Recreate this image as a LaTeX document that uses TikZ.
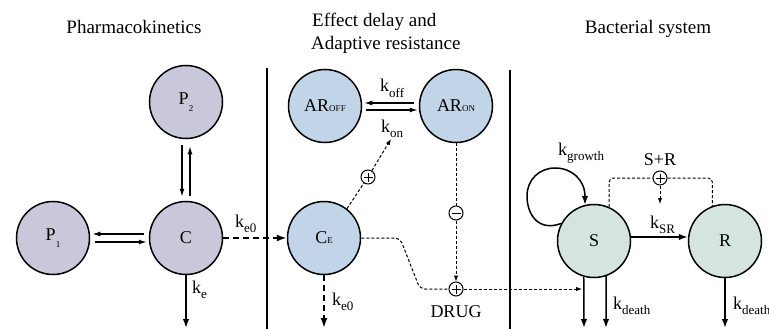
\documentclass[tikz,border=0pt]{standalone}
\usepackage{fontspec}
\setmainfont{Liberation Serif}
\newfontfamily\tms{Liberation Serif}
\usetikzlibrary{arrows.meta,calc}
\definecolor{pkfill}{HTML}{C8C8DA}
\definecolor{edfill}{HTML}{C2D4E8}
\definecolor{bsfill}{HTML}{D5E5DD}
\newcommand\ks[1]{\raisebox{-0.28em}{\tms\fontsize{13}{13}\selectfont #1}}
\newcommand\ts[2][-0.2em]{\raisebox{#1}{\tms\fontsize{9}{9}\selectfont #2}}
\begin{document}
\begin{tikzpicture}[x=1pt,y=-1pt,font=\tms\fontsize{18}{20}\selectfont,
  comp/.style={circle,draw,line width=1.5pt,minimum size=73pt,inner sep=0pt},
  pk/.style={comp,fill=pkfill},
  ed/.style={comp,fill=edfill},
  bs/.style={comp,fill=bsfill},
  title/.style={font=\tms\fontsize{19}{22}\selectfont,inner sep=0pt},
  lab/.style={inner sep=0pt},
  sarr/.style={line width=1.5pt,-{Latex[length=9pt,width=6.5pt]}},
  darr/.style={line width=1.3pt,-{Latex[length=8pt,width=5pt]}},
  dasharr/.style={line width=1.8pt,dash pattern=on 6pt off 4pt,-{Latex[length=10pt,width=7pt]}},
  dotl/.style={line width=1pt,dash pattern=on 3pt off 2pt},
  dotarr/.style={dotl,-{Latex[length=6pt,width=4.5pt]}},
  sepl/.style={line width=1.8pt},
  signn/.style={circle,draw,line width=1pt,minimum size=14pt,inner sep=0pt,fill=white},
  plusn/.style={signn,path picture={\draw[line width=1pt] ([xshift=-4.5pt]path picture bounding box.center) -- ([xshift=4.5pt]path picture bounding box.center) ([yshift=-4.5pt]path picture bounding box.center) -- ([yshift=4.5pt]path picture bounding box.center);}},
  minusn/.style={signn,path picture={\draw[line width=1pt] ([xshift=-4.5pt]path picture bounding box.center) -- ([xshift=4.5pt]path picture bounding box.center);}}
]
\useasboundingbox (0,0) rectangle (769,329);
\fill[white] (0,0) rectangle (769,329);

% titles
\node[title,anchor=base] (t1) at (134,34) {Pharmacokinetics};
\node[title,anchor=base west] (t2a) at (312,27) {Effect delay and};
\node[title,anchor=base west] (t2b) at (311,50) {Adaptive resistance};
\node[title,anchor=base] (t3) at (648,34) {Bacterial system};

% separators
\coordinate (v1t) at (267,68); \coordinate (v1b) at (267,330);
\coordinate (v2t) at (510,70); \coordinate (v2b) at (510,330);
\draw[sepl] (v1t) -- (v1b);
\draw[sepl] (v2t) -- (v2b);

% compartments
\node[pk] (P2) at (186,102) {P\ts[-0.4em]{2}};
\node[pk] (P1) at (53,238) {P\ts[-0.4em]{1}};
\node[pk] (C) at (186,238) {C};
\node[ed] (ARoff) at (325,106) {AR\ts[0em]{OFF}};
\node[ed] (ARon) at (456,106) {AR\ts[0em]{ON}};
\node[ed] (CE) at (324,238) {C\ts[0em]{E}};
\node[bs] (S) at (594,241) {S};
\node[bs] (R) at (725,241) {R};

% sign nodes
\node[plusn] (pl1) at (368,177) {};
\node[minusn] (mi1) at (456,213) {};
\node[plusn] (pl2) at (456,289) {};
\node[plusn] (pl3) at (660,178) {};

% labels
\node[lab,anchor=base west] (lke0a) at (235,227) {k\ks{e0}};
\node[lab,anchor=base west] (lke) at (192,293) {k\ks{e}};
\node[lab,anchor=base west] (lkoff) at (380,92) {k\ks{off}};
\node[lab,anchor=base west] (lkon) at (381,132) {k\ks{on}};
\node[lab,anchor=base west] (lke0b) at (332,305) {k\ks{e0}};
\node[lab,anchor=base] (ldrug) at (456,317) {DRUG};
\node[lab,anchor=base west] (lkg) at (558,155) {k\ks{growth}};
\node[lab,anchor=base] (lsr) at (660,165) {S+R};
\node[lab,anchor=base west] (lksr) at (650,228) {k\ks{SR}};
\node[lab,anchor=base west] (lkd1) at (613,309) {k\ks{death}};
\node[lab,anchor=base west] (lkd2) at (733,309) {k\ks{death}};

% PK arrows
\draw[darr] ($(P2.south)+(-4,6)$) -- ($(C.north)+(-4,-4)$);
\draw[darr] ($(C.north)+(4,-5)$) -- ($(P2.south)+(4,7)$);
\draw[darr] ($(C.west)+(-5,-4)$) -- ($(P1.east)+(2,-4)$);
\draw[darr] ($(P1.east)+(5,4)$) -- ($(C.west)+(-2,4)$);
\coordinate (ckb) at (186,328);
\draw[sarr] (C.south) -- (ckb);
\draw[dasharr] (C.east) -- (CE.west);

% effect delay / AR
\draw[darr] ($(ARon.west)+(-5,-3)$) -- ($(ARoff.east)+(2,-3)$);
\draw[darr] ($(ARoff.east)+(4,4)$) -- ($(ARon.west)+(-1,4)$);
\coordinate (cekb) at (324,328);
\draw[dasharr] (CE.south) -- (cekb);
\coordinate (konp) at (391,139);
\draw[dotl] (CE.52) -- (pl1);
\draw[dotarr] (pl1) -- (konp);
\draw[dotl] (ARon.south) -- (mi1);
\draw[dotarr] (mi1) -- (pl2);
\coordinate (cd1) at (400,238);
\coordinate (cd2) at (420,289);
\draw[dotl,rounded corners=5pt] (CE.east) -- (cd1) -- (cd2) -- (pl2);
\coordinate (sin) at (582,289);
\draw[dotarr] (pl2) -- (sin);

% bacterial system
\draw[sarr] (S.152) .. controls (538,232) and (527,214) .. (527,196)
  .. controls (527,180) and (539,168) .. (555,168)
  .. controls (572,168) and (585,180) .. (S.104);
\draw[sarr] ($(S.east)+(0,-4)$) -- ($(R.west)+(0,-4)$);
\draw[dotl,rounded corners=4pt] (S.66) |- (pl3.west);
\draw[dotl,rounded corners=4pt] (pl3.east) -| (R.110);
\coordinate (ksrt) at (660,204);
\draw[dotarr] (pl3.south) -- (ksrt);
\coordinate (sd1) at (584,328);
\coordinate (sd2) at (606,328);
\coordinate (rd) at (725,328);
\draw[sarr] (S.-106) -- (sd1);
\draw[sarr] (S.-71) -- (sd2);
\draw[sarr] (R.south) -- (rd);
\end{tikzpicture}
\end{document}
